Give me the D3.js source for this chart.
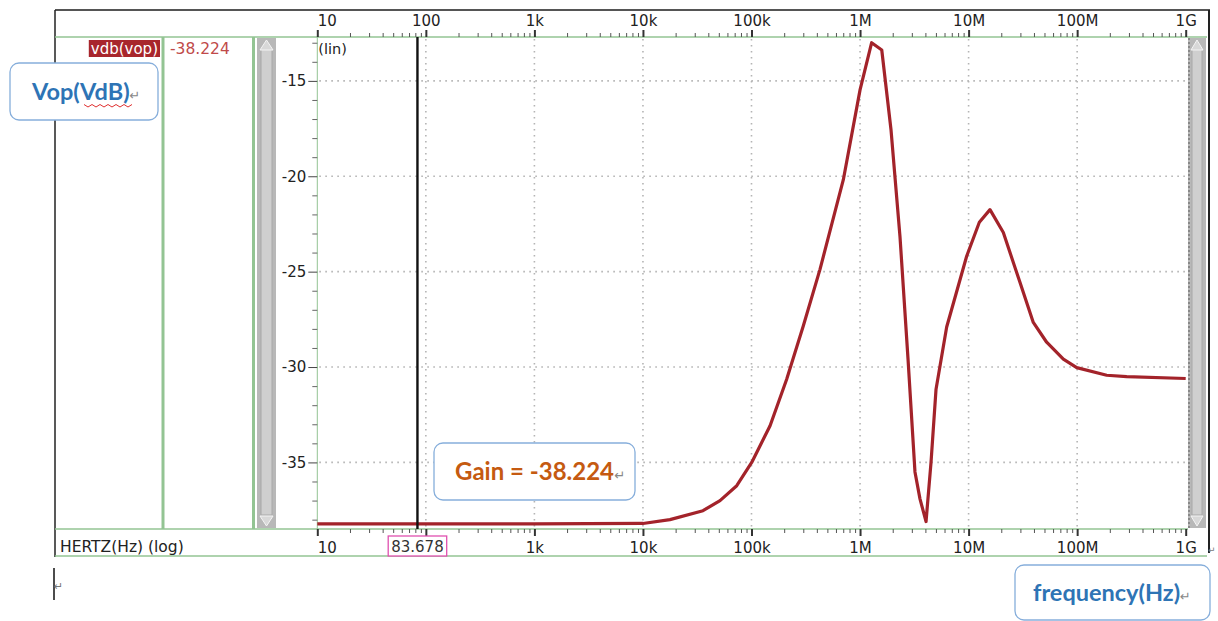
<!DOCTYPE html>
<html>
<head>
<meta charset="utf-8">
<script src="https://cdn.jsdelivr.net/npm/d3@7"></script>
<style>
  html, body { margin: 0; padding: 0; background: #fff; }
  svg { display: block; }
  .ui { font-family: "DejaVu Sans", sans-serif; }
  .note { font-family: Lato, "Open Sans", sans-serif; font-weight: bold; }
</style>
</head>
<body>
<svg id="chart" width="1218" height="621"></svg>
<script>
// ---------------- data ----------------
const freqHz = [10, 83.678, 1000, 10000, 17740, 35730, 51290, 73110, 100460, 148300, 210900, 299900,
  427600, 701500, 1.0e6, 1.279e6, 1.585e6, 1.928e6, 2.333e6, 2.767e6, 3.206e6, 3.565e6, 4.055e6,
  4.508e6, 5.012e6, 6.281e6, 9.594e6, 1.256e7, 1.574e7, 2.089e7, 2.972e7, 3.945e7, 5.236e7,
  7.464e7, 9.908e7, 1.871e8, 2.858e8, 1.0e9];
const vdbVop = [-38.224, -38.224, -38.224, -38.2, -38.0, -37.53, -37.0, -36.22, -35.0, -33.08, -30.64, -27.85,
  -24.88, -20.18, -15.47, -13.0, -13.38, -17.56, -23.16, -29.59, -35.5, -36.91, -38.1,
  -34.98, -31.16, -27.9, -24.19, -22.41, -21.75, -22.95, -25.56, -27.66, -28.7,
  -29.59, -30.03, -30.43, -30.5, -30.6];
const xTickValues = [10, 100, 1e3, 1e4, 1e5, 1e6, 1e7, 1e8, 1e9];
const xTickLabelsTop = ["10", "100", "1k", "10k", "100k", "1M", "10M", "100M", "1G"];
const xTickLabelsBottom = ["10", "", "1k", "10k", "100k", "1M", "10M", "100M", "1G"];
const yTickValues = [-15, -20, -25, -30, -35];
const yTickLabels = ["-15", "-20", "-25", "-30", "-35"];
const cursorFreq = 83.678;
const cursorLabel = "83.678";
const cursorValue = "-38.224";
const signalName = "vdb(vop)";
const xAxisName = "HERTZ(Hz) (log)";
const yScaleName = "(lin)";
const noteY = "Vop(VdB)";
const noteGain = "Gain = -38.224";
const noteX = "frequency(Hz)";

// ---------------- layout ----------------
const svg = d3.select("#chart");
const L = 317.3, R = 1185.7, T = 37, B = 529;
const x = d3.scaleLog().domain([10, 1e9]).range([L, R]);
const y = d3.scaleLinear().domain([-38.49, -12.70]).range([B, T]);
const green = "#93c493";

// outer frame
svg.append("line").attr("x1", 55).attr("x2", 1210).attr("y1", 10).attr("y2", 10)
  .attr("stroke", "#555").attr("stroke-width", 2);
svg.append("line").attr("x1", 55).attr("x2", 55).attr("y1", 10).attr("y2", 557)
  .attr("stroke", "#222").attr("stroke-width", 1.5);
svg.append("line").attr("x1", 1209).attr("x2", 1209).attr("y1", 10).attr("y2", 553)
  .attr("stroke", "#222").attr("stroke-width", 2);

// header / footer green lines
svg.append("line").attr("x1", 55).attr("x2", 1207).attr("y1", T).attr("y2", T)
  .attr("stroke", green).attr("stroke-width", 1.5);
svg.append("line").attr("x1", 55).attr("x2", 1188).attr("y1", B).attr("y2", B)
  .attr("stroke", green).attr("stroke-width", 1.5);
svg.append("line").attr("x1", 55).attr("x2", 1207).attr("y1", 556).attr("y2", 556)
  .attr("stroke", green).attr("stroke-width", 1.5);
svg.append("line").attr("x1", L).attr("x2", L).attr("y1", T).attr("y2", B)
  .attr("stroke", green).attr("stroke-width", 1);

// left panel separators
[163, 253.5].forEach(px => {
  svg.append("line").attr("x1", px).attr("x2", px).attr("y1", T).attr("y2", B)
    .attr("stroke", green).attr("stroke-width", 3);
});

// scrollbars
function scrollbar(x0, w, jagged) {
  const g = svg.append("g");
  g.append("rect").attr("x", x0).attr("y", T + 1).attr("width", w).attr("height", B - T - 2)
    .attr("fill", "#b8b8b8");
  g.append("rect").attr("x", x0 + 4).attr("y", T + 12).attr("width", w - 8).attr("height", B - T - 26)
    .attr("fill", "#cfcfcf").attr("stroke", "#a8a8a8").attr("stroke-width", 1);
  g.append("path").attr("d", `M${x0 + w / 2},${T + 3} L${x0 + 3},${T + 13} L${x0 + w - 3},${T + 13} Z`)
    .attr("fill", "#d8d8d8").attr("stroke", "#f4f4f4").attr("stroke-width", 1);
  g.append("path").attr("d", `M${x0 + w / 2},${B - 3} L${x0 + 3},${B - 13} L${x0 + w - 3},${B - 13} Z`)
    .attr("fill", "#d8d8d8").attr("stroke", "#f4f4f4").attr("stroke-width", 1);
  if (jagged) {
    g.append("line").attr("x1", x0 + 1).attr("x2", x0 + 1).attr("y1", T + 1).attr("y2", B - 1)
      .attr("stroke", "#888").attr("stroke-width", 2).attr("stroke-dasharray", "2,2");
  }
}
scrollbar(257, 19, false);
scrollbar(1188, 18, true);

// gridlines (dotted)
const grid = svg.append("g").attr("stroke", "#b4b4b4").attr("stroke-width", 1.6)
  .attr("stroke-dasharray", "1.6,4.4");
xTickValues.slice(1, -1).forEach(v => {
  grid.append("line").attr("x1", x(v)).attr("x2", x(v)).attr("y1", T + 2).attr("y2", B - 1);
});
yTickValues.forEach(v => {
  grid.append("line").attr("x1", L + 2).attr("x2", R).attr("y1", y(v)).attr("y2", y(v));
});

// minor log ticks
const minorX = [];
for (let d = 10; d < 1e9; d *= 10) for (let k = 2; k <= 9; k++) minorX.push(d * k);

function xAxis(gen, ty, isTop, labels) {
  const gMinor = svg.append("g").attr("transform", `translate(0,${ty})`)
    .call(gen(x).tickValues(minorX).tickSize(4).tickFormat(""));
  gMinor.select(".domain").remove();
  gMinor.selectAll("line").attr("stroke", "#555").attr("stroke-width", 1);
  const gMajor = svg.append("g").attr("transform", `translate(0,${ty})`)
    .call(gen(x).tickValues(xTickValues).tickSize(7).tickPadding(isTop ? 4 : 6)
      .tickFormat(d => labels[xTickValues.indexOf(d)]));
  gMajor.select(".domain").remove();
  gMajor.selectAll("line").attr("stroke", "#333").attr("stroke-width", 2);
  gMajor.selectAll("text").attr("class", "ui").attr("font-size", 15).attr("fill", "#222")
    .attr("font-family", "DejaVu Sans")
    .attr("text-anchor", (d, i) => i === 0 ? "start" : "middle");
  gMajor.selectAll("text").filter(function () { return this.textContent === ""; }).remove();
  return gMajor;
}
xAxis(d3.axisTop, T, true, xTickLabelsTop);
xAxis(d3.axisBottom, B, false, xTickLabelsBottom);

// y axis
const minorY = d3.range(-38, -12, 1).filter(v => !yTickValues.includes(v));
const gyMinor = svg.append("g").attr("transform", `translate(${L},0)`)
  .call(d3.axisLeft(y).tickValues(minorY).tickSize(5).tickFormat(""));
gyMinor.select(".domain").remove();
gyMinor.selectAll("line").attr("stroke", "#666");
const gy = svg.append("g").attr("transform", `translate(${L},0)`)
  .call(d3.axisLeft(y).tickValues(yTickValues).tickSize(9).tickPadding(2)
    .tickFormat(d => yTickLabels[yTickValues.indexOf(d)]));
gy.select(".domain").remove();
gy.selectAll("line").attr("stroke", "#444");
gy.selectAll("text").attr("font-size", 15).attr("fill", "#222").attr("font-family", "DejaVu Sans");

// (lin)
svg.append("text").attr("class", "ui").attr("x", L + 1).attr("y", 54).attr("font-size", 14.5)
  .attr("fill", "#222").text(yScaleName);

// trace
const pts = freqHz.map((f, i) => [f, vdbVop[i]]);
svg.append("path").datum(pts)
  .attr("d", d3.line().x(d => x(d[0])).y(d => y(d[1])))
  .attr("fill", "none").attr("stroke", "#a3232a").attr("stroke-width", 3.2)
  .attr("stroke-linejoin", "round");

// cursor
svg.append("line").attr("x1", x(cursorFreq)).attr("x2", x(cursorFreq)).attr("y1", T).attr("y2", B)
  .attr("stroke", "#111").attr("stroke-width", 2.4);
const cl = svg.append("g");
const clText = cl.append("text").attr("class", "ui").attr("x", x(cursorFreq)).attr("y", 552)
  .attr("text-anchor", "middle").attr("font-size", 15).attr("fill", "#333").text(cursorLabel);
const bb = clText.node().getBBox();
cl.insert("rect", "text").attr("x", bb.x - 3).attr("y", 536).attr("width", bb.width + 6).attr("height", 20)
  .attr("fill", "#fff").attr("stroke", "#e050b0").attr("stroke-width", 1.3);

// left panel labels
const sn = svg.append("g");
const snText = sn.append("text").attr("class", "ui").attr("x", 158).attr("y", 54)
  .attr("text-anchor", "end").attr("font-size", 15).attr("fill", "#fff").text(signalName);
const sb = snText.node().getBBox();
sn.insert("rect", "text").attr("x", sb.x - 2).attr("y", 40).attr("width", sb.width + 4).attr("height", 17)
  .attr("fill", "#a8262c");
svg.append("text").attr("class", "ui").attr("x", 170).attr("y", 54).attr("font-size", 15.5)
  .attr("fill", "#c04a4a").text(cursorValue);

// x axis name
svg.append("text").attr("class", "ui").attr("x", 60).attr("y", 552).attr("font-size", 15.5)
  .attr("fill", "#222").text(xAxisName);

// annotation boxes
function note(bx, by, bw, bh, txt, color, size, tx, ty) {
  const g = svg.append("g");
  g.append("rect").attr("x", bx).attr("y", by).attr("width", bw).attr("height", bh)
    .attr("rx", 9).attr("fill", "#fff").attr("stroke", "#86aedb").attr("stroke-width", 1.3);
  const t = g.append("text").attr("class", "note").attr("x", tx).attr("y", ty)
    .attr("font-size", size).attr("fill", color);
  t.append("tspan").text(txt);
  t.append("tspan").attr("font-size", size * 0.55).attr("fill", "#888")
    .attr("font-weight", "normal").attr("font-family", "DejaVu Sans").text("\u21b5");
  return t;
}
note(10, 63, 148, 57, noteY, "#2e74b5", 23.5, 32, 100);
note(434, 443, 201, 57, noteGain, "#c55a11", 24, 455, 480);
note(1015, 565, 195, 55, noteX, "#2e74b5", 23.5, 1033, 601);

// spell-check wavy underline under "VdB"
const wave = d3.range(0, 13).map(i => [84 + i * 4, i % 2 ? 107 : 104.5]);
svg.append("path").attr("d", d3.line()(wave)).attr("fill", "none")
  .attr("stroke", "#e03030").attr("stroke-width", 1);

// document text cursor + paragraph mark
svg.append("line").attr("x1", 54).attr("x2", 54).attr("y1", 568).attr("y2", 600)
  .attr("stroke", "#111").attr("stroke-width", 1.5);
svg.append("text").attr("x", 54).attr("y", 590).attr("font-size", 11).attr("fill", "#777")
  .attr("font-family", "DejaVu Sans").text("\u21b5");
svg.append("text").attr("x", 1208).attr("y", 553).attr("font-size", 9).attr("fill", "#777")
  .attr("font-family", "DejaVu Sans").text("\u21b5");
</script>
</body>
</html>
